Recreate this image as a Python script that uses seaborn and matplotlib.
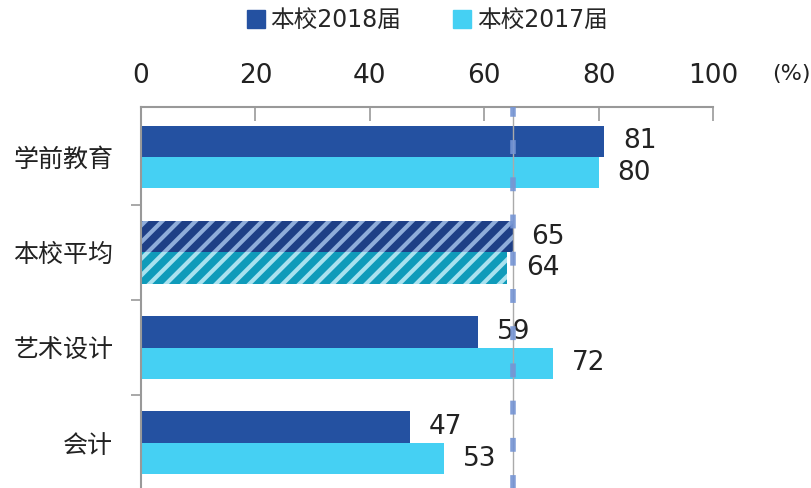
import matplotlib
matplotlib.use("Agg")
import matplotlib.pyplot as plt
import seaborn as sns
import pandas as pd
from matplotlib.lines import Line2D

categories = ["学前教育", "本校平均", "艺术设计", "会计"]
series_names = ["本校2018届", "本校2017届"]
values_2018 = [81, 65, 59, 47]
values_2017 = [80, 64, 72, 53]
avg_line = 65
x_ticks = [0, 20, 40, 60, 80, 100]

sns.set_theme(style="white")
plt.rcParams['font.family'] = ['Noto Sans CJK SC', 'DejaVu Sans']
plt.rcParams['hatch.linewidth'] = 3.0

num_font = ['DejaVu Sans', 'Noto Sans CJK SC']

df = pd.DataFrame({
    "cat": categories * 2,
    "series": [series_names[0]] * 4 + [series_names[1]] * 4,
    "value": values_2018 + values_2017,
})

colors = ["#2451a1", "#45d0f3"]
hatch_face = ["#1e3f86", "#0f9bba"]
hatch_edge = ["#8fadda", "#a9e2ef"]

fig = plt.figure(figsize=(8.11, 4.88), dpi=100)
ax = fig.add_axes([141/811, -2/488, 572/811, (488-107+2)/488])

sns.barplot(data=df, y="cat", x="value", hue="series", order=categories,
            hue_order=series_names, palette=colors, orient="h", width=0.66,
            saturation=1, ax=ax, legend=False, linewidth=0)

for ci, cont in enumerate(ax.containers):
    for bi, bar in enumerate(cont):
        bar.set_linewidth(0)
        if categories[bi] == "本校平均":
            bar.set_facecolor(hatch_face[ci])
            bar.set_edgecolor(hatch_edge[ci])
            bar.set_hatch("//")
        val = cont.datavalues[bi]
        ax.annotate(f"{val:.0f}", xy=(val, bar.get_y() + bar.get_height()/2),
                    xytext=(13.5, 0), textcoords="offset points",
                    ha="left", va="center", fontsize=19, color="#222222",
                    family=num_font)

ax.set_xlim(0, 100)
ax.set_ylim(3.494, -0.525)
ax.set_xlabel("")
ax.set_ylabel("")
ax.xaxis.tick_top()
ax.set_xticks(x_ticks)
ax.set_xticklabels([str(t) for t in x_ticks], family=num_font)
ax.tick_params(axis="x", direction="in", length=10, width=1.2, color="#999999",
               pad=13, labelsize=19, labelcolor="#222222")
ax.tick_params(axis="y", length=0, pad=20, labelsize=18, labelcolor="#222222")
ax.set_yticks([0.5, 1.5, 2.5], minor=True)
ax.tick_params(axis="y", which="minor", direction="out", length=7, width=1.2,
               color="#999999", left=True)
for s in ["right", "bottom"]:
    ax.spines[s].set_visible(False)
for s in ["top", "left"]:
    ax.spines[s].set_color("#999999")
    ax.spines[s].set_linewidth(1.5)

ax.axvline(avg_line, color="#aaaaaa", lw=1, zorder=3)
ax.axvline(avg_line, color="#7594d4", lw=4, ls=(0, (2.5, 4.2)), alpha=0.9, zorder=4)

fig.text(772/811, 1 - 74/488, "(%)", ha="left", va="center", fontsize=16,
         color="#222222", family=num_font)

handles = [Line2D([], [], marker="s", ls="", markersize=13, color=c) for c in colors]
fig.legend(handles, series_names, loc="center", bbox_to_anchor=(427/811, 1 - 20/488),
           ncol=2, frameon=False, prop={"family": num_font, "size": 17},
           handletextpad=0.2, columnspacing=2.2, handlelength=0.8)

fig.savefig("out.png", dpi=100)
